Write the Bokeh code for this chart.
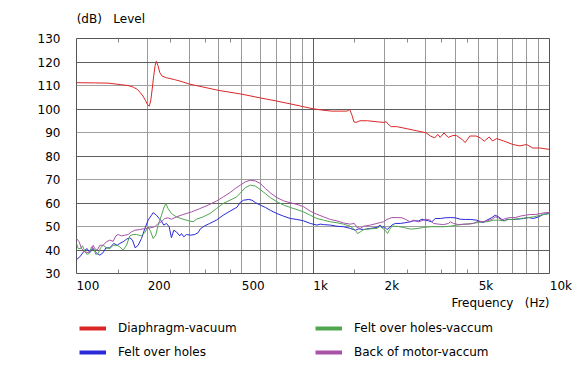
from bokeh.plotting import figure
from bokeh.layouts import column
from bokeh.models import FixedTicker, Grid, LogAxis, Legend, LegendItem, Title, Range1d
from bokeh.embed import file_html
from bokeh.resources import INLINE

FONT = "DejaVu Sans"
FS = "12px"
NB = "\u00a0"

# ---------------- data ----------------
red_freq = [100, 120, 136, 153, 165, 174, 181, 186, 191, 196,
            200, 203, 206, 209, 212, 215, 217.5, 221, 225, 230,
            240, 260, 280, 300, 400, 500, 600, 700, 800, 900,
            1000, 1100, 1200, 1390, 1430, 1460, 1490, 1520, 1580, 1700,
            1890, 2000, 2040, 2080, 2140, 2260, 2500, 2750, 3000, 3140,
            3270, 3370, 3450, 3580, 3730, 3900, 4040, 4280, 4400, 4600,
            4890, 5100, 5300, 5560, 5740, 5980, 6400, 7000, 7500, 8000,
            8500, 9100, 10000]
red_db = [111.2, 111.1, 111.0, 110.4, 110.0, 109.3, 108.3, 107.0, 105.5, 103.5,
          101.8, 101.2, 103.5, 108.5, 114.0, 118.5, 120.3, 118.5, 115.5, 114.0,
          113.3, 112.5, 111.6, 110.6, 107.9, 106.3, 104.7, 103.4, 102.2, 101.1,
          100.1, 99.5, 99.1, 99.1, 99.8, 97.5, 94.5, 94.3, 95.0, 95.0,
          94.5, 94.3, 94.6, 93.5, 92.5, 92.5, 91.6, 90.7, 89.9, 88.5,
          87.7, 89.2, 87.9, 89.8, 87.9, 88.7, 88.7, 87.0, 85.7, 88.5,
          88.5, 87.7, 86.3, 88.1, 86.4, 87.4, 86.4, 84.9, 84.3, 84.9,
          83.4, 83.4, 82.8]

blue_freq = [100, 103.3, 108.4, 110.9, 113.9, 117.6, 119.5, 122.3, 125.5, 129.6,
             133.1, 138.3, 143.8, 148.5, 152.5, 157.5, 162.7, 168, 172.5, 177,
             182.2, 188.3, 194.5, 200.9, 207.5, 210.9, 217.9, 223.6, 228.7, 233.9,
             240.1, 246.5, 252, 257.9, 264.6, 273.4, 277.9, 284.3, 291.7, 303.2,
             316.4, 326.8, 334.5, 348.7, 366, 390.4, 416.9, 445.3, 477, 493,
             509, 535, 552, 570, 599, 629, 660, 704, 751, 802,
             855, 913, 974, 1039, 1074, 1109, 1184, 1263, 1347, 1438,
             1510, 1560, 1637, 1747, 1864, 1925, 1956, 2001, 2054, 2108,
             2156, 2227, 2338, 2455, 2577, 2663, 2796, 2888, 2983, 3081,
             3182, 3288, 3451, 3623, 3804, 3994, 4193, 4403, 4622, 4932,
             5093, 5260, 5434, 5706, 5894, 6088, 6289, 6434, 6604, 6934,
             7279, 7765, 8153, 8560, 8988, 9434, 9904, 10000]
blue_db = [35.9, 37.1, 39.9, 40.6, 38.9, 40.6, 39.5, 38.5, 37.8, 38.9,
           40.9, 40.9, 42.8, 42.0, 42.8, 43.5, 44.6, 45.2, 44.2, 40.9,
           42.0, 44.9, 49.1, 52.7, 54.8, 55.9, 54.8, 53.4, 52.3, 50.6,
           51.3, 49.9, 45.2, 48.4, 47.7, 46.0, 47.0, 45.6, 46.6, 46.3,
           46.6, 47.4, 49.1, 50.3, 51.3, 52.7, 54.8, 56.5, 58.2, 60.3,
           61.2, 61.5, 61.2, 60.2, 59.1, 58.1, 56.9, 55.5, 54.4, 53.4,
           53.0, 52.4, 51.3, 50.6, 51.0, 50.8, 50.6, 50.1, 49.9, 49.2,
           48.4, 49.0, 48.7, 49.2, 49.6, 50.6, 49.6, 49.9, 48.7, 49.6,
           50.6, 51.3, 51.3, 51.6, 52.0, 52.4, 52.4, 53.1, 52.7, 52.4,
           52.0, 53.4, 53.4, 53.7, 53.8, 53.7, 53.1, 53.0, 53.0, 52.7,
           52.0, 51.7, 52.7, 53.8, 54.8, 54.1, 53.0, 52.4, 53.0, 53.0,
           53.1, 53.4, 53.8, 53.4, 54.1, 55.2, 55.5, 55.5]

purple_freq = [100, 102.6, 105, 108.4, 112, 115.7, 117.6, 119.5, 122.3, 125.5,
               129.6, 133.9, 138.3, 142.9, 146.7, 150.1, 155, 160.1, 165.4, 170.8,
               176.4, 185.2, 194.4, 204.2, 214.4, 221.4, 228.7, 236.2, 244, 252,
               264.5, 282.3, 306.3, 332.1, 360.3, 390.6, 417.2, 447, 469.5, 492.9,
               517.5, 543.3, 570.5, 598.9, 628.8, 660.2, 704.3, 751.4, 801.9, 855.5,
               912.8, 974.1, 1039, 1109, 1184, 1263, 1347, 1438, 1495, 1534,
               1585, 1637, 1747, 1864, 1925, 1988, 2054, 2156, 2264, 2377,
               2455, 2577, 2663, 2796, 2935, 3031, 3131, 3234, 3396, 3565,
               3743, 3804, 3929, 4126, 4331, 4547, 4775, 5012, 5176, 5434,
               5706, 5894, 6088, 6289, 6497, 6823, 7161, 7517, 7893, 8287,
               8700, 9134, 9590, 10000]
purple_db = [44.9, 43.5, 40.6, 39.2, 38.9, 39.9, 42.0, 40.6, 39.9, 42.0,
             42.0, 43.5, 44.2, 43.7, 46.0, 46.6, 46.0, 46.3, 46.6, 47.7,
             48.4, 48.7, 49.1, 49.4, 49.9, 51.3, 52.0, 53.4, 53.7, 53.1,
             54.1, 55.1, 56.2, 57.6, 59.1, 60.8, 62.6, 64.5, 66.2, 67.6,
             69.0, 69.7, 69.4, 68.3, 66.2, 64.3, 62.3, 60.9, 60.1, 59.4,
             58.4, 56.5, 55.2, 54.1, 53.0, 52.4, 51.5, 51.0, 51.3, 49.6,
             49.2, 50.1, 50.6, 51.3, 51.7, 52.0, 53.0, 53.8, 53.8, 53.7,
             53.1, 52.0, 52.7, 52.0, 52.7, 53.1, 52.7, 51.3, 51.0, 50.8,
             51.3, 52.0, 51.3, 50.8, 51.0, 51.0, 51.3, 52.4, 52.0, 52.4,
             53.0, 54.1, 53.7, 52.7, 53.4, 53.8, 53.8, 54.4, 54.8, 55.1,
             55.1, 55.5, 55.9, 55.9]

green_freq = [100, 101.6, 104, 106, 108.4, 110.9, 113.1, 115.7, 118.4, 120.7,
              123.5, 126.4, 129.6, 133.9, 138.3, 142.9, 148.5, 152.5, 157.5, 162.7,
              168, 173.5, 179, 188.3, 194.4, 200.8, 205.6, 210.9, 216.3, 221.4,
              228.7, 233.9, 238.6, 244, 252, 264.5, 282.3, 301.3, 311.2, 321.6,
              343.1, 366.2, 390.6, 417.2, 445.6, 475.8, 493, 517.5, 543.3, 570.5,
              598.9, 628.8, 660.2, 704.3, 751.4, 801.9, 855.5, 912.8, 974.1, 1039,
              1109, 1184, 1263, 1347, 1438, 1510, 1544, 1585, 1637, 1747,
              1864, 1925, 1975, 2020, 2067, 2108, 2156, 2264, 2415, 2577,
              2751, 2935, 3131, 3341, 3565, 3804, 4059, 4403, 4697, 4932,
              5176, 5434, 5799, 6088, 6393, 6712, 7047, 7517, 8022, 8560,
              9134, 9590, 10000]
green_db = [42.8, 40.6, 40.6, 41.8, 39.5, 38.1, 38.5, 41.3, 40.6, 38.1,
            38.5, 40.9, 42.0, 40.9, 40.6, 42.0, 42.0, 41.3, 39.9, 42.0,
            46.0, 46.6, 46.6, 46.0, 47.4, 49.9, 48.0, 44.9, 46.3, 50.6,
            54.8, 57.9, 59.8, 57.6, 55.5, 54.1, 53.1, 52.3, 52.0, 53.1,
            54.1, 55.5, 57.6, 59.8, 61.2, 62.6, 64.3, 66.5, 67.6, 67.2,
            65.7, 64.0, 62.3, 60.5, 59.1, 58.1, 57.2, 56.2, 54.8, 53.4,
            52.7, 52.0, 51.6, 51.0, 50.1, 48.4, 47.0, 47.7, 48.7, 49.0,
            49.2, 50.1, 49.1, 48.4, 47.0, 48.7, 50.1, 50.1, 49.6, 48.9,
            49.1, 49.6, 49.9, 49.9, 49.9, 50.1, 50.6, 51.0, 51.3, 51.6,
            52.0, 52.0, 52.7, 52.7, 52.4, 53.0, 53.0, 53.4, 53.7, 54.1,
            54.8, 55.2, 55.5]

series_freqs = [red_freq, blue_freq, green_freq, purple_freq]
series_dbs = [red_db, blue_db, green_db, purple_db]
series_names = ["Diaphragm-vacuum", "Felt over holes",
                "Felt over holes-vaccum", "Back of motor-vaccum"]
series_colors = ["#dc2626", "#2a2ad8", "#4fa64f", "#a852a8"]

x_tick_values = [100, 200, 500, 1000, 2000, 5000, 10000]
x_tick_labels = ["100", "200", "500", "1k", "2k", "5k", "10k"]
x_minor_ticks = [150, 250, 350, 450, 1500, 2500, 3500, 4500]
x_grid_light = [200, 300, 400, 500, 600, 700, 800, 900,
                2000, 3000, 4000, 5000, 6000, 7000, 8000, 9000]
x_grid_dark = [1000]
y_ticks = [30, 40, 50, 60, 70, 80, 90, 100, 110, 120, 130]
y_grid_dark = [40, 60, 80, 100, 120]
y_grid_light = [50, 70, 90, 110]
y_caption = "(dB)" + NB + NB + " Level"
x_caption = "Frequency" + NB + NB + " (Hz)"

# ---------------- main figure ----------------
p = figure(frame_width=473, frame_height=235, x_axis_type="log",
           x_range=(100, 10000), y_range=(30, 130),
           output_backend="svg", toolbar_location=None,
           min_border_left=76, min_border_right=29,
           min_border_top=38, min_border_bottom=45)
p.background_fill_color = "white"
p.border_fill_color = "white"
p.outline_line_color = "#555555"
p.outline_line_width = 1
p.grid.visible = False
p.title.text = ""

# grids
p.add_layout(Grid(dimension=0, ticker=FixedTicker(ticks=x_grid_light),
                  grid_line_color="#999999", grid_line_width=1))
p.add_layout(Grid(dimension=0, ticker=FixedTicker(ticks=x_grid_dark),
                  grid_line_color="#5e5e5e", grid_line_width=1))
p.add_layout(Grid(dimension=1, ticker=FixedTicker(ticks=y_grid_light),
                  grid_line_color="#a0a0a0", grid_line_width=1))
p.add_layout(Grid(dimension=1, ticker=FixedTicker(ticks=y_grid_dark),
                  grid_line_color="#5e5e5e", grid_line_width=1))

# helper: pad a centred tick label with no-break spaces so it starts at its tick
def pad(t, n):
    return NB * n + t

# bottom axis: labels starting at their ticks, inner minor ticks
xa = p.xaxis[0]
xa.ticker = FixedTicker(ticks=x_tick_values, minor_ticks=x_minor_ticks)
pads = {"100": 6, "200": 6, "500": 6, "10k": 6, "1k": 4, "2k": 4, "5k": 4}
xa.major_label_overrides = {v: pad(t, pads[t]) for v, t in zip(x_tick_values, x_tick_labels)}
xa.major_tick_in = 0
xa.major_tick_out = 0
xa.minor_tick_in = 4
xa.minor_tick_out = 0
xa.minor_tick_line_color = "#888888"
xa.axis_line_color = None
xa.major_label_standoff = 5
xa.major_label_text_font = FONT
xa.major_label_text_font_size = FS
xa.major_label_text_color = "#000000"

# top axis: inner minor ticks + the level caption starting at the left edge
top = LogAxis(ticker=FixedTicker(ticks=[100], minor_ticks=x_minor_ticks),
              major_label_overrides={100: pad(y_caption, 18)},
              major_tick_in=0, major_tick_out=0, minor_tick_in=4, minor_tick_out=0,
              minor_tick_line_color="#888888", axis_line_color=None,
              major_label_standoff=13, major_label_text_font=FONT,
              major_label_text_font_size=FS, major_label_text_color="#000000")
p.add_layout(top, "above")

ya = p.yaxis[0]
ya.ticker = FixedTicker(ticks=y_ticks, minor_ticks=[])
ya.major_tick_in = 0
ya.major_tick_out = 0
ya.minor_tick_in = 0
ya.minor_tick_out = 0
ya.axis_line_color = None
ya.major_label_standoff = 16
ya.major_label_text_font = FONT
ya.major_label_text_font_size = FS
ya.major_label_text_color = "#000000"

# curves
for f, d, c in zip(series_freqs, series_dbs, series_colors):
    p.line(f, d, line_color=c, line_width=1)

# x-axis caption at bottom right
p.add_layout(Title(text=x_caption, align="right", offset=0,
                   standoff=0, vertical_align="top",
                   text_font=FONT, text_font_size=FS, text_font_style="normal",
                   text_color="#000000"), "below")

# ---------------- legend strip ----------------
lg = figure(width=578, height=62, x_range=Range1d(0, 1), y_range=Range1d(0, 1),
            output_backend="svg", toolbar_location=None,
            x_axis_location=None, y_axis_location=None, min_border=0)
lg.title.text = ""
lg.outline_line_color = None
lg.grid.visible = False
lg.background_fill_color = "white"
lg.border_fill_color = "white"

# legend swatches (data lie outside this strip's ranges, only the legend glyphs show)
swatches = [lg.line(f, d, line_color=c, line_width=4)
            for f, d, c in zip(series_freqs, series_dbs, series_colors)]

def make_legend(idx, loc):
    return Legend(items=[LegendItem(label=series_names[i], renderers=[swatches[i]]) for i in idx],
                  location=loc, orientation="vertical",
                  padding=0, margin=0, spacing=4,
                  glyph_width=27, glyph_height=20, label_height=20,
                  label_standoff=12, label_text_font=FONT, label_text_font_size=FS,
                  label_text_color="#000000", border_line_color=None,
                  background_fill_alpha=0)

lg.add_layout(make_legend([0, 1], (3, 18)))
lg.add_layout(make_legend([2, 3], (239, 18)))

layout = column(p, lg, spacing=0)
open("out.html", "w").write(file_html(layout, INLINE))
